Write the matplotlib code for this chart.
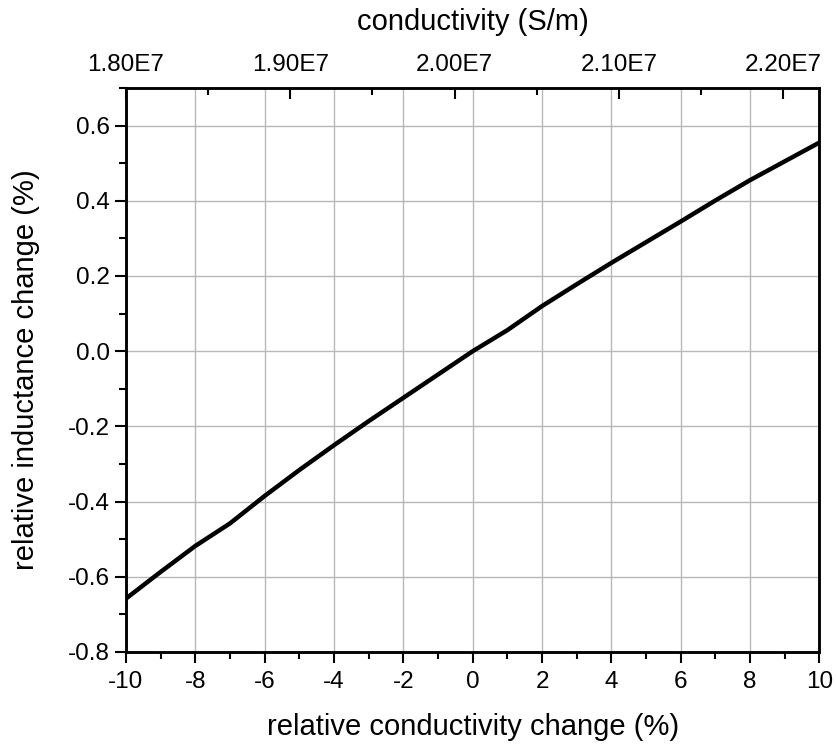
import numpy as np
import matplotlib.pyplot as plt
from matplotlib.ticker import MultipleLocator, FuncFormatter

# relative conductivity change (%) vs relative inductance change (%)
cond_change = [-10, -9, -8, -7, -6, -5, -4, -3, -2, -1, 0,
               1, 2, 3, 4, 5, 6, 7, 8, 9, 10]
ind_change = [-0.658, -0.587, -0.518, -0.458, -0.385, -0.316, -0.250,
              -0.186, -0.124, -0.062, 0.0, 0.056, 0.120, 0.178, 0.235,
              0.290, 0.345, 0.401, 0.455, 0.505, 0.555]

# top axis (absolute conductivity, S/m)
top_range = (1.80e7, 2.222e7)
top_ticks = [1.80e7, 1.90e7, 2.00e7, 2.10e7, 2.20e7]

plt.rcParams["font.family"] = ["Liberation Sans", "DejaVu Sans"]
plt.rcParams["axes.unicode_minus"] = False

fig = plt.figure(figsize=(8.36, 7.44), dpi=100)
ax = fig.add_axes([0.1507, 0.1237, 0.8295, 0.758])

ax.plot(cond_change, ind_change, color="black", linewidth=3.2, zorder=3)

ax.set_xlim(-10, 10)
ax.set_ylim(-0.8, 0.7)
ax.xaxis.set_major_locator(MultipleLocator(2))
ax.xaxis.set_minor_locator(MultipleLocator(1))
ax.yaxis.set_major_locator(MultipleLocator(0.2))
ax.yaxis.set_minor_locator(MultipleLocator(0.1))
ax.yaxis.set_major_formatter(FuncFormatter(lambda v, p: f"{v:.1f}"))
ax.grid(True, which="major", color="#b8b8b8", linewidth=1.0, zorder=0)

ax.tick_params(axis="both", which="major", direction="out", length=8,
               width=1.5, labelsize=17.5)
ax.tick_params(axis="x", which="major", pad=6)
ax.tick_params(axis="both", which="minor", direction="out", length=5,
               width=1.5)
ax.tick_params(axis="y", right=False)
for s in ax.spines.values():
    s.set_linewidth(1.8)

ax.set_xlabel("relative conductivity change (%)", fontsize=21, labelpad=14)
ax.set_ylabel("relative inductance change (%)", fontsize=21, labelpad=20)

top = ax.twiny()
top.set_xlim(*top_range)
top.set_xticks(top_ticks)
top.xaxis.set_minor_locator(MultipleLocator(0.05e7))
top.xaxis.set_major_formatter(FuncFormatter(lambda v, p: f"{v / 1e7:.2f}E7"))
top.tick_params(axis="x", which="major", direction="in", length=8,
                width=1.5, labelsize=17.5, pad=9)
top.tick_params(axis="x", which="minor", direction="in", length=5, width=1.5)
for s in top.spines.values():
    s.set_linewidth(1.8)
top.set_xlabel("conductivity (S/m)", fontsize=21, labelpad=17)

fig.savefig("out.png", dpi=100)
